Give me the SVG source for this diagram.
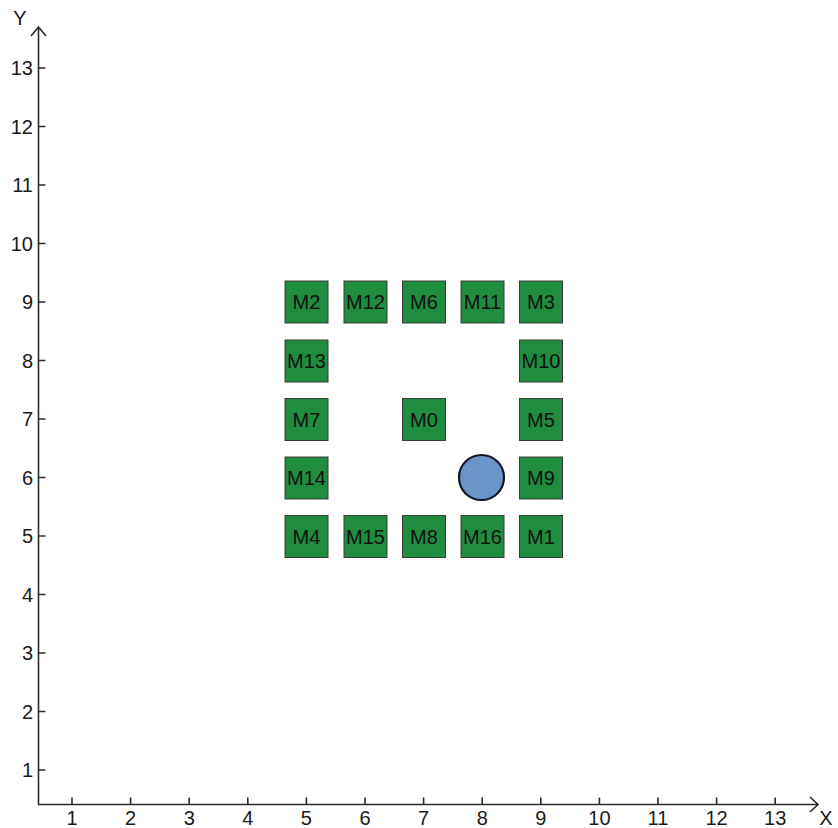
<svg xmlns="http://www.w3.org/2000/svg" width="838" height="828" viewBox="0 0 838 828">
<style>
.ax{stroke:#2b2b2b;stroke-width:1.6;fill:none}
.lbl{font-family:"Liberation Sans",Arial,sans-serif;font-size:20px;fill:#1a1a1a}
.yl{text-anchor:end}
.xl{text-anchor:middle}
.box{fill:#1f8c3f;stroke:#3a3a3a;stroke-width:1}
.bt{font-family:"Liberation Sans",Arial,sans-serif;font-size:20px;fill:#111;text-anchor:middle}
</style>
<rect width="838" height="828" fill="#fff"/>
<g id="axes">
<path class="ax" d="M38.5,805 V27 M31,36 L38.5,27 L46,36"/>
<path class="ax" d="M38,804.5 H818 M810,797 L818,804.5 L810,812"/>
<path class="ax" d="M38.5,770 h7 M38.5,711.5 h7 M38.5,653 h7 M38.5,594.5 h7 M38.5,536 h7 M38.5,477.5 h7 M38.5,419 h7 M38.5,360.5 h7 M38.5,302 h7 M38.5,243.5 h7 M38.5,185 h7 M38.5,126.5 h7 M38.5,68 h7"/>
<path class="ax" d="M72,804.5 v-7 M130.6,804.5 v-7 M189.2,804.5 v-7 M247.8,804.5 v-7 M306.4,804.5 v-7 M365,804.5 v-7 M423.6,804.5 v-7 M482.2,804.5 v-7 M540.8,804.5 v-7 M599.4,804.5 v-7 M658,804.5 v-7 M716.6,804.5 v-7 M775.2,804.5 v-7"/>
<text class="lbl xl" x="20" y="25">Y</text>
<text class="lbl xl" x="826" y="825">X</text>
<g class="lbl yl">
<text x="33" y="777">1</text><text x="33" y="718.5">2</text><text x="33" y="660">3</text><text x="33" y="601.5">4</text><text x="33" y="543">5</text><text x="33" y="484.5">6</text><text x="33" y="426">7</text><text x="33" y="367.5">8</text><text x="33" y="309">9</text><text x="33" y="250.5">10</text><text x="33" y="192">11</text><text x="33" y="133.5">12</text><text x="33" y="75">13</text>
</g>
<g class="lbl xl">
<text x="72" y="825">1</text><text x="130.6" y="825">2</text><text x="189.2" y="825">3</text><text x="247.8" y="825">4</text><text x="306.4" y="825">5</text><text x="365" y="825">6</text><text x="423.6" y="825">7</text><text x="482.2" y="825">8</text><text x="540.8" y="825">9</text><text x="599.4" y="825">10</text><text x="658" y="825">11</text><text x="716.6" y="825">12</text><text x="775.2" y="825">13</text>
</g>
</g>
<g id="M2"><rect class="box" x="285" y="281" width="43" height="42"/><text class="bt" x="306.5" y="309">M2</text></g>
<g id="M12"><rect class="box" x="344" y="281" width="43" height="42"/><text class="bt" x="365.5" y="309">M12</text></g>
<g id="M6"><rect class="box" x="402.5" y="281" width="43" height="42"/><text class="bt" x="424" y="309">M6</text></g>
<g id="M11"><rect class="box" x="461" y="281" width="43" height="42"/><text class="bt" x="482.5" y="309">M11</text></g>
<g id="M3"><rect class="box" x="519.5" y="281" width="43" height="42"/><text class="bt" x="541" y="309">M3</text></g>
<g id="M13"><rect class="box" x="285" y="340" width="43" height="42"/><text class="bt" x="306.5" y="368">M13</text></g>
<g id="M10"><rect class="box" x="519.5" y="340" width="43" height="42"/><text class="bt" x="541" y="368">M10</text></g>
<g id="M7"><rect class="box" x="285" y="398.5" width="43" height="42"/><text class="bt" x="306.5" y="426.5">M7</text></g>
<g id="M0"><rect class="box" x="402.5" y="398.5" width="43" height="42"/><text class="bt" x="424" y="426.5">M0</text></g>
<g id="M5"><rect class="box" x="519.5" y="398.5" width="43" height="42"/><text class="bt" x="541" y="426.5">M5</text></g>
<g id="M14"><rect class="box" x="285" y="457" width="43" height="42"/><text class="bt" x="306.5" y="485">M14</text></g>
<g id="M9"><rect class="box" x="519.5" y="457" width="43" height="42"/><text class="bt" x="541" y="485">M9</text></g>
<g id="M4"><rect class="box" x="285" y="515.5" width="43" height="42"/><text class="bt" x="306.5" y="543.5">M4</text></g>
<g id="M15"><rect class="box" x="344" y="515.5" width="43" height="42"/><text class="bt" x="365.5" y="543.5">M15</text></g>
<g id="M8"><rect class="box" x="402.5" y="515.5" width="43" height="42"/><text class="bt" x="424" y="543.5">M8</text></g>
<g id="M16"><rect class="box" x="461" y="515.5" width="43" height="42"/><text class="bt" x="482.5" y="543.5">M16</text></g>
<g id="M1"><rect class="box" x="519.5" y="515.5" width="43" height="42"/><text class="bt" x="541" y="543.5">M1</text></g>
<g id="target"><circle cx="481.5" cy="477.5" r="22.5" fill="#6a95c6" stroke="#15182a" stroke-width="2.2"/></g>
<g id="connectors"/>
</svg>
